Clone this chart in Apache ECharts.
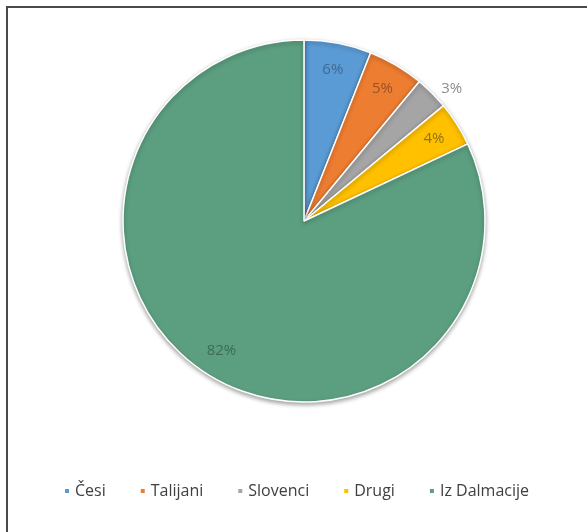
<!DOCTYPE html>
<html>
<head>
<meta charset="utf-8">
<script src="https://cdn.jsdelivr.net/npm/echarts@6/dist/echarts.min.js"></script>
<style>
  html, body { margin: 0; padding: 0; background: #fff; }
  #chart { width: 587px; height: 532px; }
</style>
</head>
<body>
<div id="chart"></div>
<script>
const names = ['Česi', 'Talijani', 'Slovenci', 'Drugi', 'Iz Dalmacije']
const values = [6, 5, 3, 4, 82]
const colors = ['#5b9bd5', '#ed7d31', '#a5a5a5', '#ffc000', '#5c9f80']
const labelColors = ['#3f6a94', '#9b5225', '#8c8c8c', '#8f7414', '#3e6a55']

const chart = echarts.init(document.getElementById('chart'))

const pieData = names.map((name, i) => ({
  name,
  value: values[i],
  itemStyle: { color: colors[i] },
  // 3% sitzt außerhalb
  label: i === 2
    ? { show: true, position: 'outside', color: labelColors[i] }
    : { show: false },
  labelLine: { show: false, length: 6, length2: 0 }
}))

// unsichtbarer Ring nur für die inneren Beschriftungen
const labelData = names.map((name, i) => ({
  name,
  value: values[i],
  label: { show: i !== 2, color: labelColors[i] }
}))

const option = {
  backgroundColor: '#ffffff',
  textStyle: { fontFamily: 'Open Sans' },
  legend: {
    bottom: 28,
    left: 58,
    icon: 'rect',
    itemWidth: 6,
    itemHeight: 6,
    itemGap: 33,
    textStyle: { color: '#404040', fontSize: 16, fontFamily: 'Open Sans' },
    data: names
  },
  graphic: [
    { type: 'line', shape: { x1: 7, y1: 7, x2: 587, y2: 7 }, style: { stroke: '#4a4a4a', lineWidth: 2 } },
    { type: 'line', shape: { x1: 7, y1: 6, x2: 7, y2: 532 }, style: { stroke: '#4a4a4a', lineWidth: 2 } }
  ],
  series: [
    {
      type: 'pie',
      center: [304, 221],
      radius: [0, 181],
      startAngle: 90,
      clockwise: true,
      animation: false,
      itemStyle: {
        borderColor: '#ffffff',
        borderWidth: 1.5,
        shadowBlur: 4,
        shadowOffsetY: 2,
        shadowColor: 'rgba(0,0,0,0.35)'
      },
      label: { fontSize: 15, fontFamily: 'Open Sans', formatter: '{c}%' },
      emphasis: { disabled: true },
      data: pieData
    },
    {
      type: 'pie',
      center: [304, 221],
      radius: [118, 184],
      startAngle: 90,
      clockwise: true,
      animation: false,
      silent: true,
      itemStyle: { color: 'rgba(0,0,0,0)' },
      label: { position: 'inside', fontSize: 15, fontFamily: 'Open Sans', formatter: '{c}%' },
      labelLine: { show: false },
      emphasis: { disabled: true },
      data: labelData
    }
  ]
}

chart.setOption(option)
</script>
</body>
</html>
